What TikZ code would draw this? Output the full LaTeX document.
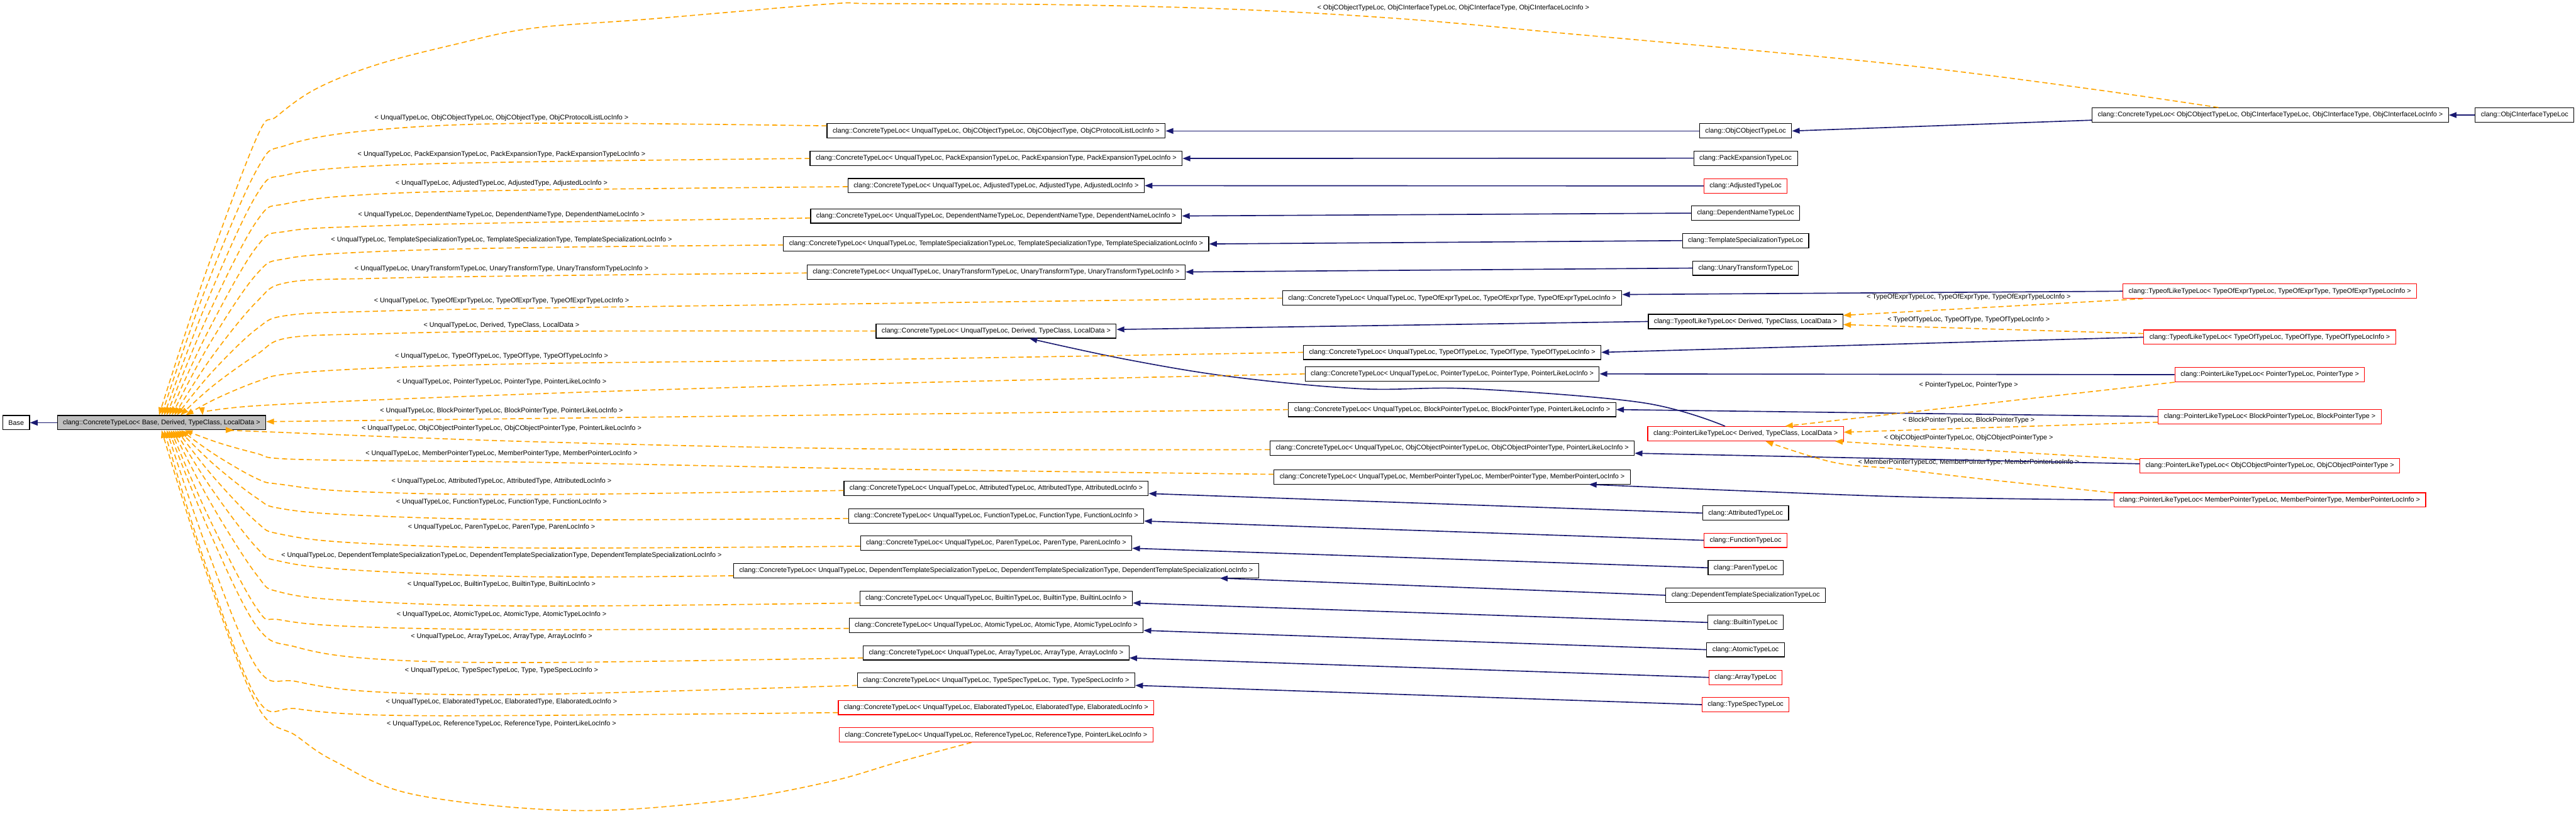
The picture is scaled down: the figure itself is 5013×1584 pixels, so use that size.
\documentclass[tikz,border=0pt]{standalone}
\usepackage{fontspec}
\setmainfont{Liberation Sans}
\usetikzlibrary{arrows.meta}
\definecolor{navy}{HTML}{191970}
\definecolor{dorange}{HTML}{FFA500}
\definecolor{boxgray}{HTML}{BFBFBF}
\tikzset{
 cls/.style={draw=black, line width=1.4pt, fill=white, minimum height=28pt, inner xsep=11pt, inner ysep=0pt, font=\fontsize{13.2pt}{15pt}\selectfont, text=black},
 redcls/.style={cls, draw=red},
 lbl/.style={font=\fontsize{13.2pt}{15pt}\selectfont, inner sep=0pt, text=black},
 inh/.style={draw=navy, line width=2pt, -{Triangle[length=15pt,width=11pt]}},
 tpl/.style={draw=dorange, line width=2pt, dash pattern=on 10pt off 6pt, -{Triangle[length=15pt,width=11pt]}},
}
\begin{document}
\begin{tikzpicture}[x=1pt,y=1pt]
\useasboundingbox (0,0) rectangle (5013,-1584);
% ---------- nodes ----------
\node[cls] (base) at (31.5,-823) {Base};
\node[cls, fill=boxgray] (cb) at (314.5,-823) {clang::ConcreteTypeLoc< Base, Derived, TypeClass, LocalData >};
% middle column
\node[cls] (m1) at (1938.5,-255) {clang::ConcreteTypeLoc< UnqualTypeLoc, ObjCObjectTypeLoc, ObjCObjectType, ObjCProtocolListLocInfo >};
\node[cls] (m2) at (1938.5,-308.5) {clang::ConcreteTypeLoc< UnqualTypeLoc, PackExpansionTypeLoc, PackExpansionType, PackExpansionTypeLocInfo >};
\node[cls] (m3) at (1938.5,-361.5) {clang::ConcreteTypeLoc< UnqualTypeLoc, AdjustedTypeLoc, AdjustedType, AdjustedLocInfo >};
\node[cls] (m4) at (1938.5,-420.5) {clang::ConcreteTypeLoc< UnqualTypeLoc, DependentNameTypeLoc, DependentNameType, DependentNameLocInfo >};
\node[cls] (m5) at (1938.5,-475) {clang::ConcreteTypeLoc< UnqualTypeLoc, TemplateSpecializationTypeLoc, TemplateSpecializationType, TemplateSpecializationLocInfo >};
\node[cls] (m6) at (1938.5,-529.5) {clang::ConcreteTypeLoc< UnqualTypeLoc, UnaryTransformTypeLoc, UnaryTransformType, UnaryTransformTypeLocInfo >};
\node[cls] (m7) at (1938.5,-644.5) {clang::ConcreteTypeLoc< UnqualTypeLoc, Derived, TypeClass, LocalData >};
\node[cls] (m8) at (1938.5,-951) {clang::ConcreteTypeLoc< UnqualTypeLoc, AttributedTypeLoc, AttributedType, AttributedLocInfo >};
\node[cls] (m9) at (1938.5,-1004.5) {clang::ConcreteTypeLoc< UnqualTypeLoc, FunctionTypeLoc, FunctionType, FunctionLocInfo >};
\node[cls] (m10) at (1938.5,-1057.5) {clang::ConcreteTypeLoc< UnqualTypeLoc, ParenTypeLoc, ParenType, ParenLocInfo >};
\node[cls] (m11) at (1938.5,-1111) {clang::ConcreteTypeLoc< UnqualTypeLoc, DependentTemplateSpecializationTypeLoc, DependentTemplateSpecializationType, DependentTemplateSpecializationLocInfo >};
\node[cls] (m12) at (1938.5,-1165) {clang::ConcreteTypeLoc< UnqualTypeLoc, BuiltinTypeLoc, BuiltinType, BuiltinLocInfo >};
\node[cls] (m13) at (1938.5,-1217.5) {clang::ConcreteTypeLoc< UnqualTypeLoc, AtomicTypeLoc, AtomicType, AtomicTypeLocInfo >};
\node[cls] (m14) at (1938.5,-1271) {clang::ConcreteTypeLoc< UnqualTypeLoc, ArrayTypeLoc, ArrayType, ArrayLocInfo >};
\node[cls] (m15) at (1938.5,-1324.5) {clang::ConcreteTypeLoc< UnqualTypeLoc, TypeSpecTypeLoc, Type, TypeSpecLocInfo >};
\node[redcls] (m16) at (1938.5,-1377.5) {clang::ConcreteTypeLoc< UnqualTypeLoc, ElaboratedTypeLoc, ElaboratedType, ElaboratedLocInfo >};
\node[redcls] (m17) at (1938.5,-1431) {clang::ConcreteTypeLoc< UnqualTypeLoc, ReferenceTypeLoc, ReferenceType, PointerLikeLocInfo >};
% second column
\node[cls] (n1) at (2826,-580.5) {clang::ConcreteTypeLoc< UnqualTypeLoc, TypeOfExprTypeLoc, TypeOfExprType, TypeOfExprTypeLocInfo >};
\node[cls] (n2) at (2826,-686) {clang::ConcreteTypeLoc< UnqualTypeLoc, TypeOfTypeLoc, TypeOfType, TypeOfTypeLocInfo >};
\node[cls] (n3) at (2826,-728) {clang::ConcreteTypeLoc< UnqualTypeLoc, PointerTypeLoc, PointerType, PointerLikeLocInfo >};
\node[cls] (n4) at (2826,-797.5) {clang::ConcreteTypeLoc< UnqualTypeLoc, BlockPointerTypeLoc, BlockPointerType, PointerLikeLocInfo >};
\node[cls] (n5) at (2826,-872.5) {clang::ConcreteTypeLoc< UnqualTypeLoc, ObjCObjectPointerTypeLoc, ObjCObjectPointerType, PointerLikeLocInfo >};
\node[cls] (n6) at (2826,-928.5) {clang::ConcreteTypeLoc< UnqualTypeLoc, MemberPointerTypeLoc, MemberPointerType, MemberPointerLocInfo >};
% third column
\node[cls] (objc) at (3397,-255) {clang::ObjCObjectTypeLoc};
\node[cls] (pack) at (3397,-308) {clang::PackExpansionTypeLoc};
\node[redcls] (adj) at (3397,-362) {clang::AdjustedTypeLoc};
\node[cls] (depn) at (3397,-415) {clang::DependentNameTypeLoc};
\node[cls] (tsp) at (3397,-468.5) {clang::TemplateSpecializationTypeLoc};
\node[cls] (unary) at (3397,-522) {clang::UnaryTransformTypeLoc};
\node[cls] (tl) at (3397,-626) {clang::TypeofLikeTypeLoc< Derived, TypeClass, LocalData >};
\node[redcls] (pd) at (3397,-844.5) {clang::PointerLikeTypeLoc< Derived, TypeClass, LocalData >};
\node[cls] (attr) at (3397,-999) {clang::AttributedTypeLoc};
\node[redcls] (func) at (3397,-1052) {clang::FunctionTypeLoc};
\node[cls] (paren) at (3397,-1105.5) {clang::ParenTypeLoc};
\node[cls] (dts) at (3397,-1159) {clang::DependentTemplateSpecializationTypeLoc};
\node[cls] (builtin) at (3397,-1212) {clang::BuiltinTypeLoc};
\node[cls] (atomic) at (3397,-1265) {clang::AtomicTypeLoc};
\node[redcls] (array) at (3397,-1319) {clang::ArrayTypeLoc};
\node[redcls] (tspec) at (3397,-1372) {clang::TypeSpecTypeLoc};
% fourth column
\node[cls] (oi) at (4418,-224) {clang::ConcreteTypeLoc< ObjCObjectTypeLoc, ObjCInterfaceTypeLoc, ObjCInterfaceType, ObjCInterfaceLocInfo >};
\node[redcls] (te) at (4417,-567) {clang::TypeofLikeTypeLoc< TypeOfExprTypeLoc, TypeOfExprType, TypeOfExprTypeLocInfo >};
\node[redcls] (tt) at (4417,-656.5) {clang::TypeofLikeTypeLoc< TypeOfTypeLoc, TypeOfType, TypeOfTypeLocInfo >};
\node[redcls] (pp) at (4417,-729.5) {clang::PointerLikeTypeLoc< PointerTypeLoc, PointerType >};
\node[redcls] (pb) at (4417,-811) {clang::PointerLikeTypeLoc< BlockPointerTypeLoc, BlockPointerType >};
\node[redcls] (po) at (4417,-907) {clang::PointerLikeTypeLoc< ObjCObjectPointerTypeLoc, ObjCObjectPointerType >};
\node[redcls] (pm) at (4417,-973.5) {clang::PointerLikeTypeLoc< MemberPointerTypeLoc, MemberPointerType, MemberPointerLocInfo >};
\node[cls] (oit) at (4913,-224) {clang::ObjCInterfaceTypeLoc};
% ---------- labels ----------
\node[lbl] (l0) at (2828,-15) {< ObjCObjectTypeLoc, ObjCInterfaceTypeLoc, ObjCInterfaceType, ObjCInterfaceLocInfo >};
\node[lbl] (l1) at (976,-230) {< UnqualTypeLoc, ObjCObjectTypeLoc, ObjCObjectType, ObjCProtocolListLocInfo >};
\node[lbl] (l2) at (976,-301) {< UnqualTypeLoc, PackExpansionTypeLoc, PackExpansionType, PackExpansionTypeLocInfo >};
\node[lbl] (l3) at (976,-357) {< UnqualTypeLoc, AdjustedTypeLoc, AdjustedType, AdjustedLocInfo >};
\node[lbl] (l4) at (976,-418) {< UnqualTypeLoc, DependentNameTypeLoc, DependentNameType, DependentNameLocInfo >};
\node[lbl] (l5) at (976,-467) {< UnqualTypeLoc, TemplateSpecializationTypeLoc, TemplateSpecializationType, TemplateSpecializationLocInfo >};
\node[lbl] (l6) at (976,-523) {< UnqualTypeLoc, UnaryTransformTypeLoc, UnaryTransformType, UnaryTransformTypeLocInfo >};
\node[lbl] (l7) at (976,-586) {< UnqualTypeLoc, TypeOfExprTypeLoc, TypeOfExprType, TypeOfExprTypeLocInfo >};
\node[lbl] (l8) at (976,-633) {< UnqualTypeLoc, Derived, TypeClass, LocalData >};
\node[lbl] (l9) at (976,-693) {< UnqualTypeLoc, TypeOfTypeLoc, TypeOfType, TypeOfTypeLocInfo >};
\node[lbl] (l10) at (976,-744) {< UnqualTypeLoc, PointerTypeLoc, PointerType, PointerLikeLocInfo >};
\node[lbl] (l11) at (976,-800) {< UnqualTypeLoc, BlockPointerTypeLoc, BlockPointerType, PointerLikeLocInfo >};
\node[lbl] (l12) at (976,-834) {< UnqualTypeLoc, ObjCObjectPointerTypeLoc, ObjCObjectPointerType, PointerLikeLocInfo >};
\node[lbl] (l13) at (976,-883) {< UnqualTypeLoc, MemberPointerTypeLoc, MemberPointerType, MemberPointerLocInfo >};
\node[lbl] (l14) at (976,-937) {< UnqualTypeLoc, AttributedTypeLoc, AttributedType, AttributedLocInfo >};
\node[lbl] (l15) at (976,-977) {< UnqualTypeLoc, FunctionTypeLoc, FunctionType, FunctionLocInfo >};
\node[lbl] (l16) at (976,-1026) {< UnqualTypeLoc, ParenTypeLoc, ParenType, ParenLocInfo >};
\node[lbl] (l17) at (976,-1081) {< UnqualTypeLoc, DependentTemplateSpecializationTypeLoc, DependentTemplateSpecializationType, DependentTemplateSpecializationLocInfo >};
\node[lbl] (l18) at (976,-1138) {< UnqualTypeLoc, BuiltinTypeLoc, BuiltinType, BuiltinLocInfo >};
\node[lbl] (l19) at (976,-1196) {< UnqualTypeLoc, AtomicTypeLoc, AtomicType, AtomicTypeLocInfo >};
\node[lbl] (l20) at (976,-1239) {< UnqualTypeLoc, ArrayTypeLoc, ArrayType, ArrayLocInfo >};
\node[lbl] (l21) at (976,-1305) {< UnqualTypeLoc, TypeSpecTypeLoc, Type, TypeSpecLocInfo >};
\node[lbl] (l22) at (976,-1367) {< UnqualTypeLoc, ElaboratedTypeLoc, ElaboratedType, ElaboratedLocInfo >};
\node[lbl] (l23) at (976,-1409) {< UnqualTypeLoc, ReferenceTypeLoc, ReferenceType, PointerLikeLocInfo >};
\node[lbl] (r1) at (3831,-579) {< TypeOfExprTypeLoc, TypeOfExprType, TypeOfExprTypeLocInfo >};
\node[lbl] (r2) at (3831,-623) {< TypeOfTypeLoc, TypeOfType, TypeOfTypeLocInfo >};
\node[lbl] (r3) at (3831,-750) {< PointerTypeLoc, PointerType >};
\node[lbl] (r4) at (3831,-819) {< BlockPointerTypeLoc, BlockPointerType >};
\node[lbl] (r5) at (3831,-853) {< ObjCObjectPointerTypeLoc, ObjCObjectPointerType >};
\node[lbl] (r6) at (3831,-901) {< MemberPointerTypeLoc, MemberPointerType, MemberPointerLocInfo >};
% ---------- inheritance (navy) ----------
\draw[inh] (cb.west) -- (base.east);
\draw[inh] (objc.west) -- (m1.east);
\draw[inh] ([yshift=-10pt]oi.west) -- (objc.east);
\draw[inh] (oit.west) -- (oi.east);
\draw[inh] (pack.west) -- (m2.east);
\draw[inh] (adj.west) -- (m3.east);
\draw[inh] (depn.west) -- (m4.east);
\draw[inh] (tsp.west) -- (m5.east);
\draw[inh] (unary.west) -- (m6.east);
\draw[inh] (tl.west) -- ([yshift=3pt]m7.east);
\draw[inh] plot[smooth, tension=0.6] coordinates {([xshift=-40pt]pd.north) (3196,-784) (2864,-757) (2649,-757) (2400,-734) (2193,-700) ([xshift=65pt]m7.south)};
\draw[inh] (te.west) -- ([yshift=7pt]n1.east);
\draw[inh] (tt.west) -- (n2.east);
\draw[inh] (pp.west) -- (n3.east);
\draw[inh] (pb.west) -- (n4.east);
\draw[inh] ([yshift=4pt]po.west) -- ([yshift=-10pt]n5.east);
\draw[inh] plot[smooth, tension=0.6] coordinates {(pm.west) (3734,-968) (3400,-956) ([xshift=266pt]n6.south)};
\draw[inh] (attr.west) -- ([yshift=-10pt]m8.east);
\draw[inh] (func.west) -- ([yshift=-10pt]m9.east);
\draw[inh] (paren.west) -- ([yshift=-10pt]m10.east);
\draw[inh] (dts.west) -- ([xshift=-76pt]m11.south east);
\draw[inh] (builtin.west) -- ([yshift=-9pt]m12.east);
\draw[inh] (atomic.west) -- ([yshift=-10pt]m13.east);
\draw[inh] (array.west) -- ([yshift=-10pt]m14.east);
\draw[inh] (tspec.west) -- ([yshift=-10pt]m15.east);
% ---------- template instances (orange dashed) ----------
\draw[tpl] plot[smooth, tension=0.6] coordinates {([xshift=-101pt]oi.north) (4067,-173) (3733,-130) (3400,-97) (3067,-67) (2733,-37) (2400,-18) (2050,-9) (1700,-7) (1610,-8) (1265,-37) (1036,-55) (883,-87) (730,-127) (615,-173) (538,-227) (500,-267) (398,-538) ([xshift=-5pt]cb.north)};
\draw[tpl] plot[smooth, tension=0.6] coordinates {([yshift=10pt]m1.west) (1036,-240) (730,-253) (560,-282) (500,-330) (397,-570) (cb.north)};
\draw[tpl] plot[smooth, tension=0.6] coordinates {(m2.west) (1036,-315) (730,-323) (560,-340) (500,-378) (400,-594) ([xshift=5pt]cb.north)};
\draw[tpl] plot[smooth, tension=0.6] coordinates {([yshift=-2pt]m3.west) (1036,-370) (730,-378) (560,-396) (500,-430) (402,-620) ([xshift=10pt]cb.north)};
\draw[tpl] plot[smooth, tension=0.6] coordinates {([yshift=-4pt]m4.west) (1036,-433) (730,-440) (560,-450) (500,-480) (405,-645) ([xshift=15pt]cb.north)};
\draw[tpl] plot[smooth, tension=0.6] coordinates {([yshift=-2pt]m5.west) (1036,-482) (730,-490) (560,-503) (500,-533) (407,-671) ([xshift=20pt]cb.north)};
\draw[tpl] plot[smooth, tension=0.6] coordinates {([yshift=-2pt]m6.west) (1036,-537) (730,-542) (560,-550) (500,-587) (410,-698) ([xshift=25pt]cb.north)};
\draw[tpl] plot[smooth, tension=0.6] coordinates {(n1.west) (1700,-591) (1036,-600) (730,-606) (560,-614) (500,-640) (412,-725) ([xshift=30pt]cb.north)};
\draw[tpl] plot[smooth, tension=0.6] coordinates {(m7.west) (1036,-645) (730,-650) (560,-658) (500,-690) (416,-750) ([xshift=37pt]cb.north)};
\draw[tpl] plot[smooth, tension=0.6] coordinates {(n2.west) (1700,-700) (1036,-708) (730,-717) (560,-728) (500,-743) (421,-776) ([xshift=47pt]cb.north)};
\draw[tpl] plot[smooth, tension=0.6] coordinates {(n3.west) (1700,-747) (1036,-767) (500,-790) ([xshift=80pt]cb.north)};
\draw[tpl] (n4.west) -- ([yshift=2pt]cb.east);
\draw[tpl] plot[smooth, tension=0.6] coordinates {([yshift=-3pt]n5.west) (1700,-874) (1036,-860) (500,-840) ([xshift=140pt]cb.south)};
\draw[tpl] plot[smooth, tension=0.6] coordinates {([yshift=5pt]n6.west) (1700,-913) (1036,-900) (730,-897) (546,-893) (500,-883) (425,-862) ([xshift=45pt]cb.south)};
\draw[tpl] plot[smooth, tension=0.6] coordinates {([yshift=-4pt]m8.west) (1036,-963) (691,-957) (546,-943) (500,-932) (418,-885) ([xshift=38pt]cb.south)};
\draw[tpl] plot[smooth, tension=0.6] coordinates {([yshift=-5pt]m9.west) (1036,-1012) (691,-1003) (546,-990) (500,-970) (416,-904) ([xshift=34pt]cb.south)};
\draw[tpl] plot[smooth, tension=0.6] coordinates {([yshift=-6pt]m10.west) (1036,-1067) (691,-1057) (546,-1040) (500,-1017) (414,-927) ([xshift=30pt]cb.south)};
\draw[tpl] plot[smooth, tension=0.6] coordinates {([yshift=-10pt]m11.west) (1036,-1123) (691,-1110) (546,-1093) (500,-1067) (412,-952) ([xshift=26pt]cb.south)};
\draw[tpl] plot[smooth, tension=0.6] coordinates {([yshift=-9pt]m12.west) (1036,-1180) (691,-1170) (546,-1153) (500,-1120) (410,-979) ([xshift=22pt]cb.south)};
\draw[tpl] plot[smooth, tension=0.6] coordinates {([yshift=-6pt]m13.west) (1036,-1226) (691,-1220) (546,-1207) (500,-1185) (408,-1011) ([xshift=18pt]cb.south)};
\draw[tpl] plot[smooth, tension=0.6] coordinates {([yshift=-10pt]m14.west) (1036,-1290) (730,-1283) (577,-1260) (500,-1220) (405,-1029) ([xshift=14pt]cb.south)};
\draw[tpl] plot[smooth, tension=0.6] coordinates {([yshift=-10pt]m15.west) (1036,-1352) (730,-1347) (577,-1327) (500,-1300) (403,-1069) ([xshift=10pt]cb.south)};
\draw[tpl] plot[smooth, tension=0.6] coordinates {([yshift=-10pt]m16.west) (1036,-1393) (730,-1392) (577,-1380) (500,-1360) (400,-1099) ([xshift=5pt]cb.south)};
\draw[tpl] plot[smooth, tension=0.6] coordinates {([xshift=-48pt]m17.south) (1751,-1483) (1610,-1523) (1400,-1560) (1112,-1578) (806,-1547) (653,-1483) (577,-1433) (500,-1373) (400,-1110) (cb.south)};
% right-side template instances
\draw[tpl] ([xshift=40pt]te.south west) -- ([yshift=12pt]tl.east);
\draw[tpl] ([yshift=7pt]tt.west) -- ([yshift=-6pt]tl.east);
\draw[tpl] (pp.south west) -- ([xshift=77pt]pd.north);
\draw[tpl] ([yshift=-11pt]pb.west) -- ([yshift=3pt]pd.east);
\draw[tpl] ([yshift=12pt]po.west) -- ([xshift=-17pt]pd.south east);
\draw[tpl] plot[smooth, tension=0.6] coordinates {([yshift=14pt]pm.west) (3870,-934) (3690,-913) (3567,-900) ([xshift=39pt]pd.south)};
\end{tikzpicture}
\end{document}
